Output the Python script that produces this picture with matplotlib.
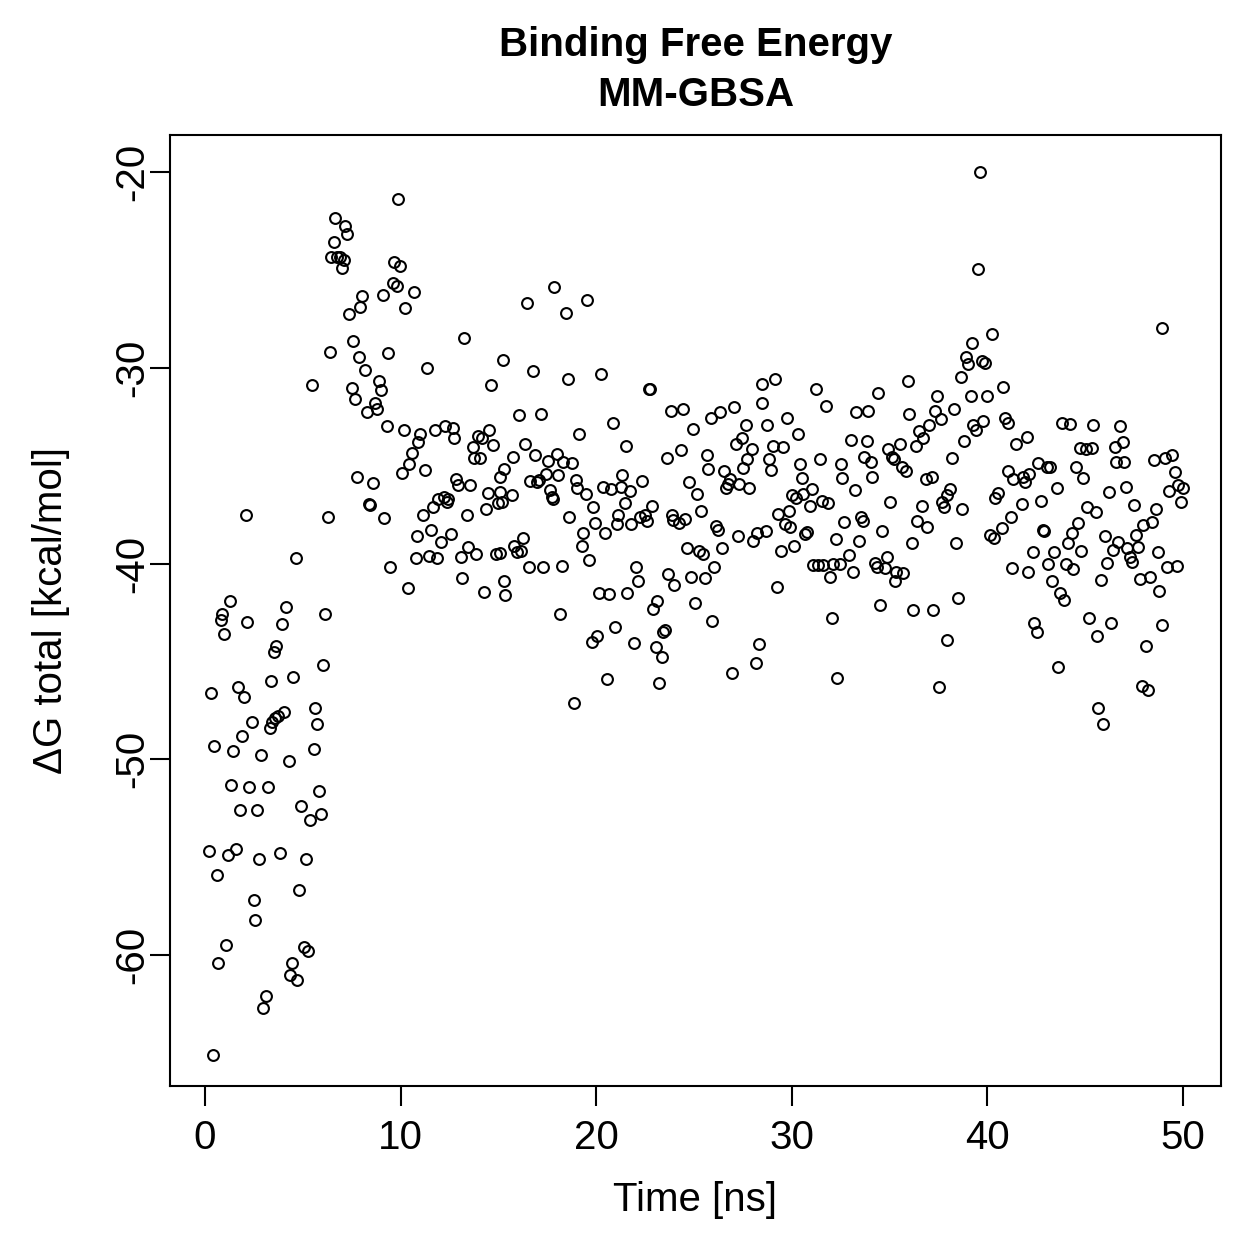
import matplotlib
matplotlib.use("Agg")
import matplotlib.pyplot as plt

# =========================
# DATA
# =========================
# 0 - 6.4 ns: equilibration, very low energies
time_a = [0.2, 0.3, 0.4, 0.45, 0.6, 0.65, 0.8, 0.85, 0.95, 1.05,
          1.2, 1.3, 1.35, 1.45, 1.6, 1.7, 1.8, 1.9, 2.0, 2.1,
          2.15, 2.25, 2.4, 2.5, 2.55, 2.65, 2.75, 2.85, 2.95, 3.1,
          3.2, 3.3, 3.4, 3.45, 3.55, 3.6, 3.65, 3.75, 3.85, 3.95,
          4.05, 4.15, 4.3, 4.35, 4.45, 4.5, 4.65, 4.7, 4.8, 4.9,
          5.05, 5.15, 5.25, 5.35, 5.45, 5.55, 5.65, 5.75, 5.85, 5.95,
          6.05, 6.15, 6.3, 6.4]
dg_a = [-54.7, -46.6, -65.1, -49.3, -55.9, -60.4, -42.9, -42.6, -43.6, -59.5,
        -54.9, -41.9, -51.3, -49.6, -54.6, -46.3, -52.6, -48.8, -46.8, -37.5,
        -43.0, -51.4, -48.1, -57.2, -58.2, -52.6, -55.1, -49.8, -62.7, -62.1,
        -51.4, -48.4, -46.0, -48.1, -44.5, -47.9, -44.2, -47.8, -54.8, -43.1,
        -47.6, -42.2, -50.1, -61.0, -60.4, -45.8, -39.7, -61.3, -56.7, -52.4,
        -59.6, -55.1, -59.8, -53.1, -30.9, -49.5, -47.4, -48.2, -51.6, -52.8,
        -45.2, -42.6, -37.6, -29.2]

# 6.45 - 10.7 ns: jump to high energies
time_b = [6.45, 6.6, 6.65, 6.75, 6.9, 7.0, 7.1, 7.15, 7.25, 7.35,
          7.5, 7.55, 7.65, 7.75, 7.85, 7.95, 8.05, 8.2, 8.3, 8.4,
          8.45, 8.6, 8.7, 8.8, 8.9, 9.0, 9.1, 9.15, 9.3, 9.35,
          9.45, 9.6, 9.65, 9.8, 9.85, 9.95, 10.05, 10.15, 10.25, 10.4,
          10.45, 10.6, 10.7]
dg_b = [-24.35, -23.6, -22.35, -24.35, -24.35, -24.9, -24.5, -22.75, -23.15, -27.25,
        -31.05, -28.65, -31.6, -35.6, -29.45, -26.9, -26.35, -30.1, -32.25, -36.95,
        -37.0, -35.9, -31.8, -32.1, -30.7, -31.15, -26.3, -37.7, -33.0, -29.25,
        -40.2, -25.65, -24.6, -25.85, -21.4, -24.8, -35.4, -33.2, -26.95, -41.25,
        -34.9, -34.35, -26.15]

# 10.8 - 15.4 ns
time_c = [10.8, 10.85, 10.9, 11.0, 11.15, 11.25, 11.35, 11.45, 11.55, 11.65,
          11.75, 11.85, 11.9, 12.05, 12.2, 12.25, 12.35, 12.4, 12.6, 12.7,
          12.75, 12.85, 12.95, 13.1, 13.15, 13.25, 13.4, 13.45, 13.55, 13.7,
          13.75, 13.85, 13.95, 14.05, 14.15, 14.25, 14.35, 14.45, 14.5, 14.6,
          14.7, 14.9, 15.0, 15.1, 15.1, 15.2, 15.25, 15.3, 15.3, 15.35,
          15.1]
dg_c = [-39.7, -38.6, -33.8, -33.4, -37.5, -35.2, -30.0, -39.6, -38.3, -37.1,
        -33.2, -39.7, -36.7, -38.9, -36.6, -33.0, -36.85, -36.7, -38.5, -33.1,
        -33.6, -35.7, -36.0, -39.65, -40.75, -28.5, -37.5, -39.15, -36.0, -34.05,
        -34.6, -39.5, -33.5, -34.6, -33.6, -41.45, -37.2, -36.4, -33.2, -30.9,
        -33.95, -39.5, -36.9, -35.6, -36.35, -36.85, -29.6, -35.15, -40.9, -41.6,
        -39.45]

# 15.5 - 24 ns
time_d = [15.7, 15.75, 15.8, 15.95, 16.05, 16.15, 16.25, 16.35, 16.45, 16.55,
          16.6, 16.75, 16.85, 16.95, 17.1, 17.2, 17.3, 17.45, 17.55, 17.65,
          17.75, 17.8, 17.85, 18.0, 18.05, 18.15, 18.25, 18.3, 18.45, 18.55,
          18.6, 18.75, 18.85, 18.95, 19.0, 19.1, 19.25, 19.3, 19.5, 19.55,
          19.65, 19.8, 19.85, 19.95, 20.05, 20.15, 20.25, 20.35, 20.45, 20.55,
          20.65, 20.75, 20.85, 20.95, 21.05, 21.1, 21.25, 21.3, 21.45, 21.5,
          21.6, 21.75, 21.8, 21.95, 22.05, 22.15, 22.25, 22.35, 22.5, 22.6,
          22.7, 22.75, 22.85, 22.9, 23.05, 23.1, 23.2, 23.35, 23.4, 23.5,
          23.6, 23.65, 23.8, 23.9, 23.95, 24.0]
dg_d = [-36.5, -34.55, -39.1, -39.4, -32.4, -39.35, -38.7, -33.9, -26.7, -40.2,
        -35.8, -30.15, -34.45, -35.85, -35.75, -32.35, -40.2, -35.45, -34.75, -36.25,
        -36.6, -36.7, -25.9, -34.4, -35.5, -42.6, -40.15, -34.8, -27.2, -30.55,
        -37.6, -34.85, -47.1, -35.75, -36.15, -33.4, -39.1, -38.45, -36.45, -26.55,
        -39.8, -44.0, -37.1, -37.95, -43.7, -41.5, -30.3, -36.1, -38.45, -45.9,
        -41.55, -36.2, -32.8, -43.25, -38.0, -37.5, -36.1, -35.5, -36.9, -34.0,
        -41.5, -36.3, -38.0, -44.05, -40.2, -40.9, -37.6, -35.8, -37.5, -37.85,
        -31.1, -31.1, -37.05, -42.3, -44.25, -41.9, -46.1, -44.8, -43.5, -43.4,
        -34.6, -40.55, -32.2, -37.5, -37.8, -41.1]

# 24 - 32.7 ns
time_e = [24.25, 24.35, 24.45, 24.55, 24.65, 24.75, 24.85, 24.95, 25.05, 25.15,
          25.25, 25.35, 25.45, 25.55, 25.65, 25.7, 25.85, 25.9, 26.0, 26.15,
          26.25, 26.35, 26.45, 26.55, 26.65, 26.75, 26.85, 26.95, 27.05, 27.15,
          27.25, 27.3, 27.45, 27.5, 27.65, 27.7, 27.8, 27.95, 28.0, 28.15,
          28.2, 28.3, 28.5, 28.5, 28.7, 28.75, 28.85, 28.95, 29.05, 29.15,
          29.25, 29.3, 29.45, 29.55, 29.65, 29.75, 29.85, 29.9, 30.0, 30.1,
          30.2, 30.3, 30.4, 30.5, 30.55, 30.65, 30.8, 30.95, 31.05, 31.1,
          31.25, 31.35, 31.45, 31.55, 31.6, 31.75, 31.85, 31.95, 32.05, 32.1,
          32.25, 32.3, 32.45, 32.5, 32.55, 32.65]
dg_e = [-37.95, -34.2, -32.1, -37.75, -39.2, -35.85, -40.7, -33.15, -42.0, -36.45,
        -39.35, -37.3, -39.5, -40.75, -34.45, -35.15, -32.55, -42.95, -40.2, -38.1,
        -38.3, -32.25, -39.2, -35.3, -36.15, -35.95, -35.7, -45.6, -32.0, -33.9,
        -38.6, -35.95, -33.6, -35.1, -32.95, -34.65, -36.15, -34.15, -38.85, -45.1,
        -38.45, -44.1, -30.85, -31.8, -38.35, -32.95, -34.65, -35.2, -34.0, -30.6,
        -41.2, -37.45, -39.35, -34.05, -38.0, -32.55, -37.3, -38.15, -36.5, -39.1,
        -36.65, -33.4, -34.9, -35.65, -36.45, -38.5, -38.4, -37.05, -36.2, -40.1,
        -31.1, -40.1, -34.65, -36.8, -40.1, -31.95, -36.9, -40.7, -42.8, -40.0,
        -38.75, -45.85, -40.0, -34.9, -35.65, -37.9]

# 32.9 - 41.5 ns
time_f = [32.9, 33.05, 33.15, 33.25, 33.3, 33.45, 33.55, 33.65, 33.7, 33.85,
          33.9, 34.05, 34.1, 34.25, 34.35, 34.4, 34.5, 34.6, 34.75, 34.85,
          34.9, 35.0, 35.1, 35.2, 35.3, 35.35, 35.55, 35.65, 35.7, 35.85,
          35.95, 36.0, 36.15, 36.2, 36.35, 36.4, 36.5, 36.65, 36.7, 36.85,
          36.9, 37.0, 37.15, 37.2, 37.3, 37.4, 37.5, 37.65, 37.7, 37.8,
          37.95, 37.95, 38.1, 38.2, 38.3, 38.4, 38.5, 38.65, 38.7, 38.8,
          38.9, 39.0, 39.15, 39.2, 39.25, 39.4, 39.5, 39.6, 39.7, 39.75,
          39.9, 40.0, 40.15, 40.25, 40.35, 40.4, 40.55, 40.75, 40.8, 40.9,
          41.05, 41.05, 41.2, 41.25, 41.3, 41.45]
dg_f = [-39.55, -33.7, -40.45, -36.25, -32.25, -38.85, -37.65, -37.85, -34.55, -33.75,
        -32.2, -34.8, -35.6, -39.95, -40.2, -31.3, -42.1, -38.35, -40.25, -39.65,
        -34.15, -36.85, -34.55, -34.65, -40.9, -40.45, -33.9, -35.05, -40.5, -35.3,
        -30.7, -32.35, -38.95, -42.35, -34.0, -37.85, -33.25, -37.05, -33.6, -35.7,
        -38.15, -32.95, -35.6, -42.35, -32.2, -31.45, -46.3, -32.6, -36.85, -37.1,
        -36.5, -43.9, -36.2, -34.6, -32.1, -38.95, -41.75, -30.45, -37.2, -33.75,
        -29.45, -29.8, -31.45, -28.75, -32.9, -33.2, -24.95, -20.0, -29.65, -32.7,
        -29.75, -31.45, -38.55, -28.3, -38.7, -36.65, -36.4, -38.2, -31.0, -32.55,
        -32.8, -35.3, -37.6, -40.25, -35.7, -33.9]

# 41.6 - 50 ns
time_g = [41.75, 41.8, 41.9, 42.0, 42.1, 42.15, 42.35, 42.4, 42.55, 42.6,
          42.75, 42.85, 42.9, 43.05, 43.1, 43.2, 43.3, 43.4, 43.55, 43.6,
          43.7, 43.8, 43.9, 44.0, 44.1, 44.2, 44.3, 44.4, 44.55, 44.65,
          44.75, 44.8, 44.9, 45.05, 45.1, 45.2, 45.35, 45.4, 45.55, 45.6,
          45.65, 45.8, 45.9, 46.0, 46.1, 46.2, 46.3, 46.4, 46.5, 46.55,
          46.7, 46.8, 46.95, 47.0, 47.1, 47.15, 47.3, 47.4, 47.5, 47.6,
          47.7, 47.8, 47.9, 47.95, 48.1, 48.2, 48.3, 48.4, 48.5, 48.6,
          48.7, 48.75, 48.9, 48.95, 49.1, 49.2, 49.3, 49.45, 49.6, 49.7,
          49.75, 49.9, 50.0]
dg_g = [-36.95, -35.6, -35.85, -33.55, -40.45, -35.45, -39.4, -43.05, -43.5, -34.85,
        -36.8, -38.3, -38.35, -35.05, -40.0, -35.05, -40.9, -39.4, -36.15, -45.3,
        -41.5, -32.8, -41.85, -40.0, -38.95, -32.85, -38.45, -40.3, -35.05, -37.95,
        -34.1, -39.35, -35.65, -34.15, -37.1, -42.8, -34.1, -32.9, -37.35, -43.7,
        -47.4, -40.85, -48.2, -38.6, -39.95, -36.35, -43.05, -39.3, -34.05, -34.8,
        -38.9, -33.0, -33.8, -34.8, -36.1, -39.2, -39.65, -39.9, -37.0, -38.55,
        -39.15, -40.8, -46.25, -38.05, -44.2, -46.45, -40.7, -37.9, -34.7, -37.2,
        -39.4, -41.4, -27.95, -43.15, -34.6, -40.2, -36.3, -34.45, -35.35, -40.15,
        -36.0, -36.85, -36.15]

time_ns = time_a + time_b + time_c + time_d + time_e + time_f + time_g
dg_total = dg_a + dg_b + dg_c + dg_d + dg_e + dg_f + dg_g

x_ticks = [0, 10, 20, 30, 40, 50]
y_ticks = [-60, -50, -40, -30, -20]

# =========================
# PLOT (base-R look)
# =========================
plt.rcParams["font.family"] = ["Liberation Sans", "DejaVu Sans"]

fig = plt.figure(figsize=(1259 / 200, 1259 / 200), dpi=200)
ax = fig.add_axes([0.135, 0.1374, 0.8348, 0.7554])

ax.plot(time_ns, dg_total, linestyle="none", marker="o", ms=3.9,
        mfc="none", mec="black", mew=0.75)

ax.set_xlim(-1.79, 51.94)
ax.set_ylim(-66.69, -18.11)
ax.set_xticks(x_ticks)
ax.set_yticks(y_ticks)
ax.set_xticklabels([str(v) for v in x_ticks])
ax.set_yticklabels([str(v) for v in y_ticks], rotation=90, va="center")

for s in ax.spines.values():
    s.set_linewidth(0.75)
ax.tick_params(axis="both", direction="out", length=7.2, width=0.75,
               labelsize=14.5, colors="black")
ax.tick_params(axis="x", pad=4.5)
ax.tick_params(axis="y", pad=-0.5)

ax.text(0.5, 1.095, "Binding Free Energy", transform=ax.transAxes,
        ha="center", va="center", fontsize=14.5, fontweight="bold")
ax.text(0.5, 1.042, "MM-GBSA", transform=ax.transAxes,
        ha="center", va="center", fontsize=14.5, fontweight="bold")

ax.text(0.5, -0.12, "Time [ns]", transform=ax.transAxes,
        ha="center", va="center", fontsize=14.5)
ax.text(-0.113, 0.5, "\u0394G total [kcal/mol]", transform=ax.transAxes,
        ha="center", va="center", rotation=90, fontsize=14.5)

fig.savefig("out.png", dpi=200)
